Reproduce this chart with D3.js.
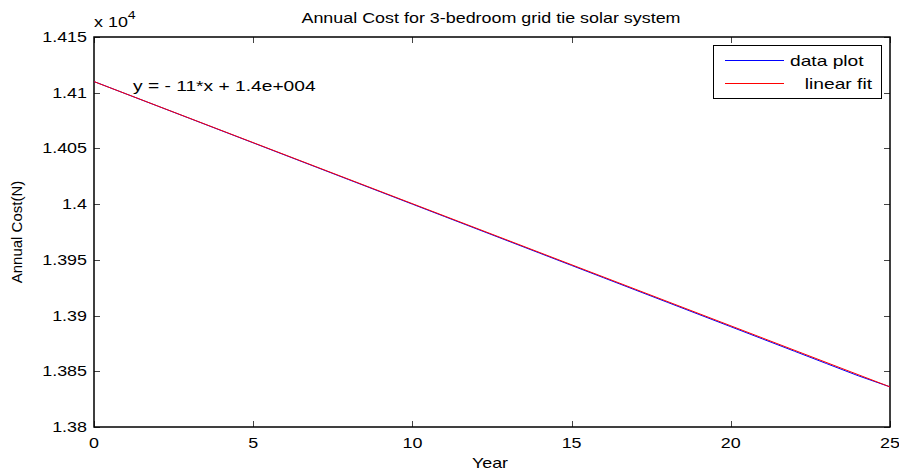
<!DOCTYPE html>
<html>
<head>
<meta charset="utf-8">
<script src="https://cdn.jsdelivr.net/npm/d3@7"></script>
<style>
  body { margin: 0; background: #fff; }
  text { font-family: "Liberation Sans", Arial, sans-serif; fill: #000; }
</style>
</head>
<body>
<div id="chart"></div>
<script>
let w = 899;
let h = 470;
let margin = {top: 37, right: 9, bottom: 43, left: 94};

// data
let years = [0, 1, 2, 3, 4, 5, 6, 7, 8, 9, 10, 11, 12, 13, 14, 15, 16, 17, 18, 19, 20, 21, 22, 23, 24, 25];
let costs = [14110, 14099, 14088, 14077, 14066, 14055, 14044, 14033, 14022, 14011, 14000, 13989, 13978,
             13967, 13956, 13945, 13934, 13923, 13912, 13901, 13890, 13879, 13868, 13857, 13846, 13836];
let fitYears = [0, 25];
let fitCosts = [14110, 13836];
let xTicks = [0, 5, 10, 15, 20, 25];
let yTicks = [13800, 13850, 13900, 13950, 14000, 14050, 14100, 14150];

let sx = 1.28; // the picture is stretched sideways

const addText = (g, x, y, str, size, anchor) => {
    return g.append('text')
        .attr('transform', 'translate(' + x + ',' + y + ') scale(' + sx + ',1)')
        .attr('text-anchor', anchor || 'start')
        .style('font-size', size + 'px')
        .text(str);
};

let svg = d3.select('#chart')
    .append('svg')
    .attr('width', w)
    .attr('height', h);

let xScale = d3.scaleLinear()
    .domain([0, 25])
    .range([margin.left, w - margin.right]);

let yScale = d3.scaleLinear()
    .domain([13800, 14150])
    .range([h - margin.bottom, margin.top]);

let x0 = margin.left, x1 = w - margin.right;
let y0 = h - margin.bottom, y1 = margin.top;
let tl = 6;

// ticks, inside on all four sides
let tickG = svg.append('g').attr('stroke', '#444').attr('stroke-width', 1);
xTicks.forEach(t => {
    let x = Math.round(xScale(t)) + 0.5;
    tickG.append('line').attr('x1', x).attr('x2', x).attr('y1', y0).attr('y2', y0 - tl);
    tickG.append('line').attr('x1', x).attr('x2', x).attr('y1', y1).attr('y2', y1 + tl);
    addText(svg, xScale(t), y0 + 21, t, 14, 'middle');
});
yTicks.forEach(t => {
    let y = Math.round(yScale(t)) + 0.5;
    tickG.append('line').attr('x1', x0).attr('x2', x0 + tl).attr('y1', y).attr('y2', y);
    tickG.append('line').attr('x1', x1).attr('x2', x1 - tl).attr('y1', y).attr('y2', y);
    addText(svg, x0 - 7, yScale(t) + 5, d3.format('')(+(t / 1e4).toFixed(4)), 14, 'end');
});

// box
svg.append('rect')
    .attr('x', x0).attr('y', y1)
    .attr('width', x1 - x0).attr('height', y0 - y1)
    .attr('fill', 'none')
    .attr('stroke', '#000')
    .attr('stroke-width', 1.5);

// lines
let line = d3.line()
    .x(d => xScale(d[0]))
    .y(d => yScale(d[1]));

svg.append('path')
    .datum(years.map((y, i) => [y, costs[i]]))
    .attr('d', line)
    .attr('stroke', '#0000ff')
    .attr('stroke-width', 1)
    .attr('fill', 'none');

svg.append('path')
    .datum(fitYears.map((y, i) => [y, fitCosts[i]]))
    .attr('d', line)
    .attr('stroke', '#ff0000')
    .attr('stroke-width', 1)
    .attr('fill', 'none');

// labels
addText(svg, 491, 23, 'Annual Cost for 3-bedroom grid tie solar system', 14, 'middle');
addText(svg, 490, 468, 'Year', 14, 'middle');
svg.append('text')
    .attr('transform', 'translate(22,232) rotate(-90)')
    .attr('text-anchor', 'middle')
    .style('font-size', '15px')
    .text('Annual Cost(N)');

let exp = addText(svg, 94, 27, 'x 10', 14, 'start');
exp.append('tspan').attr('dy', -8).style('font-size', '11px').text('4');

addText(svg, 133, 91, 'y = - 11*x + 1.4e+004', 15, 'start');

// legend
let legend = svg.append('g');
legend.append('rect')
    .attr('x', 713.5).attr('y', 45.5)
    .attr('width', 168).attr('height', 53)
    .attr('fill', '#fff')
    .attr('stroke', '#000')
    .attr('stroke-width', 1);
legend.append('line')
    .attr('x1', 725).attr('x2', 784).attr('y1', 60.5).attr('y2', 60.5)
    .attr('stroke', '#0000ff');
legend.append('line')
    .attr('x1', 725).attr('x2', 784).attr('y1', 83.5).attr('y2', 83.5)
    .attr('stroke', '#ff0000');
addText(legend, 790, 66, 'data plot', 15, 'start');
addText(legend, 872, 89, 'linear fit', 15, 'end');
</script>
</body>
</html>
